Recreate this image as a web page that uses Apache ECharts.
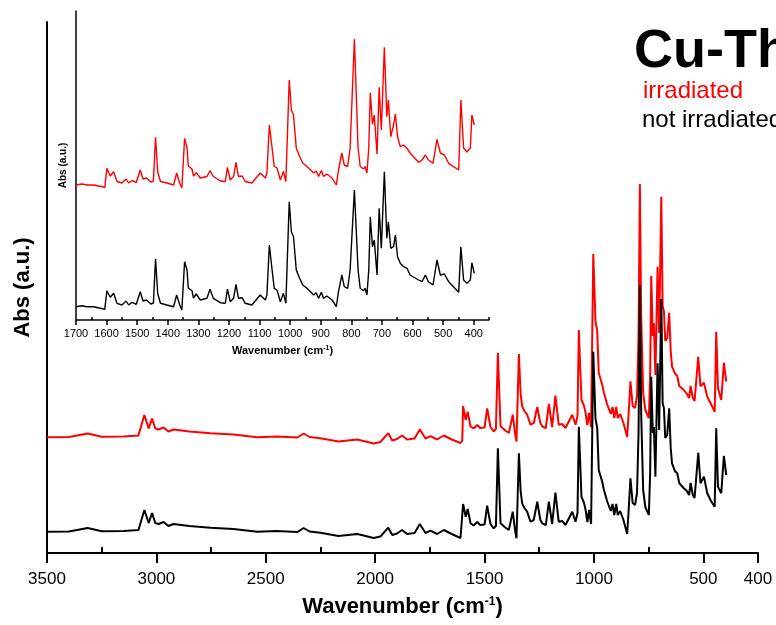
<!DOCTYPE html>
<html>
<head>
<meta charset="utf-8">
<script src="https://cdn.jsdelivr.net/npm/echarts@6/dist/echarts.min.js"></script>
<style>
html,body{margin:0;padding:0;background:#fff;}
#chart{width:776px;height:625px;}
</style>
</head>
<body>
<div id="chart"></div>
<script>
// ---- main spectrum (wavenumber, cm-1) ----
const mainWavenumber = [3500,3400,3314,3250,3150,3082,3055,3035,3020,3005,2990,2967,2945,2922,2850,2753,2648,2538,2450,2355,2327,2300,2250,2168,2081,2007,1976,1940,1922,1900,1877,1854,1820,1796,1770,1747,1717,1686,1650,1610,1602,1598,1586,1577,1564,1550,1533,1520,1511,1500,1488,1473,1458,1448,1439,1427,1405,1389,1371,1360,1354,1343,1335,1328,1318,1305,1290,1275,1259,1245,1236,1220,1206,1191,1176,1161,1145,1130,1099,1084,1075,1069,1057,1045,1038,1030,1022,1013,1003,993,985,978,962,955,940,923,915,907,898,891,880,865,848,842,833,823,812,803,796,790,784,775,765,756,749,743,738,731,726,719,709,702,692,686,680,674,665,656,649,643,630,619,610,589,575,565,558,548,540,523,513,505,497,482,465,448,441,433,418,406,395];
const mainNotIrradiated = [21.3,21.5,25,21.8,22,23,43,30,40,30,29,31,27,29,27,25.3,24,21.3,22,21,25,21.5,20.3,17,19,15,16.5,25.3,18,19.5,23,19,20,29,20,22.3,19,23,19,15,16.3,49,36.3,44,29.7,27.5,31,28,30,28.5,47.3,29,24.7,27,104.7,29.7,25.5,23,41.3,22,14.7,99.7,62,49.7,45,41.3,31.3,33,51.3,33,29.7,28,51.3,29,60.3,31.3,32,28,41.3,31.3,40,126.3,56.3,50,43,31,43,29,201.3,134.7,125,83,71.3,63.7,52,42,49,38,49,38,42,33,19,40,74.7,50,48,60,120,268,140,63,46,41.3,38,80,176.3,120,126,76.3,189.7,123,254,150,144.7,115,118,144.7,105,89.7,82,79.7,70,64.7,62,58,70,58,55,100.3,69.7,68,76.3,59.7,52,46.3,124.7,66.3,59.7,97,78];
const mainIrradiated = [115.7,116,119.5,116.3,116.5,117.5,138,124.5,134.5,124.5,123.5,125.5,121.5,123.5,121.5,119.8,118.5,115.8,116.5,115.5,119.5,116,114.8,111.5,113.5,109.5,111,119.8,112.5,114,117.5,113.5,114.5,123.5,114.5,116.8,113.5,117.5,113.5,110,112.3,147,133,141.3,126.5,124.5,128,125,127,125.5,144.7,126,121.7,124,200.3,126.7,122.5,120,138.3,119,111.3,199,159,146.7,142,138.3,128.3,130,146,130,126.7,125,149,126,157.3,128.3,129,125,138.3,128.3,137,223,153.3,147,140,128,140,126,299,231.7,222,180,168.3,160.7,149,139,146,135,146,135,139,130,116,137,171.7,147,145,157,217,369,237,160,143,138.3,135,177,277.3,217,230,178,286.3,220,356.3,247,241.7,212,215,240.3,202,186.3,179.7,177,167,163,159,155,167,155,152,196.3,166.7,165,170.3,156.3,149,141.3,221.3,164.7,153,190.3,171.3];

// ---- inset spectrum (1700-400 cm-1) ----
const insetWavenumber = [1700,1680,1665,1642,1606,1599,1588,1577,1566,1550,1536,1528,1517,1503,1490,1481,1470,1455,1447,1440,1433,1424,1403,1381,1371,1361,1354,1345,1337,1333,1321,1316,1307,1294,1272,1262,1251,1228,1212,1205,1196,1185,1177,1169,1157,1147,1125,1098,1081,1076,1068,1059,1052,1043,1032,1022,1014,1003,996,989,980,969,964,959,945,923,915,907,898,891,880,863,849,842,831,823,812,804,790,778,771,760,755,749,743,738,731,725,716,709,702,692,684,679,671,662,656,649,640,629,618,608,580,569,558,548,533,520,509,496,482,449,442,433,422,411,406,398];
const insetNotIrradiated = [13.3,14.3,13.3,13.3,10.7,29.3,22.7,26.7,16.7,15,19,15,17.7,15.7,28.3,19,20,16,17,61,26.7,16.7,15,13.3,25,15,10,58.3,50,32,29.3,22,26,20,21.7,30.7,21.7,17.3,16.7,31,18.3,21.7,35.7,21.7,22.3,16.7,15,25,20,25,75,50,31.7,30,18.3,26.7,16.7,118.3,88.3,83.3,50,41.7,43.3,35,31.7,25,27.3,21.7,27.7,21.7,24,20,13.3,28.3,45,33.3,31.7,50,130,50,31.7,29.3,31.7,25,50,103.3,73.3,80,45,111.7,71.7,148.3,81.7,98.3,71.7,73.3,85,63.3,56.7,53.3,51.7,45,40,38.3,45,38.3,35,60,45,46,38.3,27.7,73.3,40,36.7,40,57.3,46.7];
const insetIrradiated = [135,136,135,135,132.7,151.7,144,148.3,138.5,137,141,137,139.5,137.5,150,141,142,138,139,182.7,148.5,138.5,137,135,146.7,137,132,181.7,172,154,151,144,147.3,142,143.5,149.3,143.5,139,138.5,152.7,140,143.5,157.7,143.5,144,138.5,137,147,142,147,195,172,153.5,152,140,148.5,138.5,240,210,205,172,163.5,165,157,153.5,147,149,143.5,149.5,143.5,146,142,135,150,167,155,153.5,172,280.7,172,153.5,151,153.5,147,172,227.3,196,205,166,232.7,190,272.7,203.3,220,183.3,195,206,183.3,173.3,175,171.7,167,157.7,160,165,160,156.7,180.7,167,165,156.7,150,220,172,168,172,205,195];

// ---- axis ticks ----
const mainTickValues = [3500,3000,2500,2000,1500,1000,500,250];
const mainTickLabels = ['3500','3000','2500','2000','1500','1000','500','400'];
const mainMinorTicks = [3250,2750,2250,1750,1250,750];
const insetTickValues = [1700,1600,1500,1400,1300,1200,1100,1000,900,800,700,600,500,400];
const insetMinorTicks = [1650,1550,1450,1350,1250,1150,1050,950,850,750,650,550,450,350];

const FONT = 'Arial, "Liberation Sans", sans-serif';
const pair = (xs, ys) => xs.map((x, i) => [x, ys[i]]);

const chart = echarts.init(document.getElementById('chart'), null, {renderer: 'canvas'});
const hiddenY = {type:'value', axisTick:{show:false}, axisLabel:{show:false}, splitLine:{show:false}};

const option = {
  animation: false,
  backgroundColor: '#fff',
  grid: [
    {left: 47, top: 22, right: 18, bottom: 72},
    {left: 76, top: 11, right: 287, bottom: 305}
  ],
  xAxis: [
    {
      gridIndex: 0, type: 'value', min: 250, max: 3500, inverse: true,
      axisLine: {show: true, onZero: false, lineStyle: {color: '#000', width: 2}},
      axisTick: {show: true, customValues: mainTickValues, length: 10, lineStyle: {color: '#000', width: 2}},
      axisLabel: {show: true, customValues: mainTickValues, margin: 18, fontSize: 17, color: '#000', fontFamily: FONT,
        formatter: v => mainTickLabels[mainTickValues.indexOf(v)]},
      splitLine: {show: false},
      name: 'Wavenumber (cm{sup|-1})', nameLocation: 'middle', nameGap: 43,
      nameTextStyle: {fontSize: 22, fontWeight: 'bold', color: '#000', fontFamily: FONT,
        rich: {sup: {fontSize: 12, fontWeight: 'bold', color: '#000', fontFamily: FONT, verticalAlign: 'top', padding: [0, 0, 8, 0]}}}
    },
    {
      gridIndex: 0, type: 'value', min: 250, max: 3500, inverse: true,
      axisLine: {show: false},
      axisTick: {show: true, customValues: mainMinorTicks, length: 6, lineStyle: {color: '#000', width: 2}},
      axisLabel: {show: false}, splitLine: {show: false}
    },
    {
      gridIndex: 1, type: 'value', min: 350, max: 1700, inverse: true,
      axisLine: {show: true, onZero: false, lineStyle: {color: '#000', width: 1.5}},
      axisTick: {show: true, customValues: insetTickValues, length: 5, lineStyle: {color: '#000', width: 1.5}},
      axisLabel: {show: true, customValues: insetTickValues, margin: 8, fontSize: 11, color: '#000', fontFamily: FONT,
        formatter: v => String(v)},
      splitLine: {show: false},
      name: 'Wavenumber (cm{sup|-1})', nameLocation: 'middle', nameGap: 25,
      nameTextStyle: {fontSize: 11, fontWeight: 'bold', color: '#000', fontFamily: FONT,
        rich: {sup: {fontSize: 7, fontWeight: 'bold', color: '#000', fontFamily: FONT, verticalAlign: 'top', padding: [0, 0, 4, 0]}}}
    },
    {
      gridIndex: 1, type: 'value', min: 350, max: 1700, inverse: true,
      axisLine: {show: false},
      axisTick: {show: true, customValues: insetMinorTicks, length: 3, lineStyle: {color: '#000', width: 1.5}},
      axisLabel: {show: false}, splitLine: {show: false}
    }
  ],
  yAxis: [
    Object.assign({}, hiddenY, {
      gridIndex: 0, min: 0, max: 531,
      axisLine: {show: true, onZero: false, lineStyle: {color: '#000', width: 2}},
      name: 'Abs (a.u.)', nameLocation: 'middle', nameGap: 13, nameRotate: 90,
      nameTextStyle: {fontSize: 22, fontWeight: 'bold', color: '#000', fontFamily: FONT}
    }),
    Object.assign({}, hiddenY, {
      gridIndex: 1, min: 0, max: 309,
      axisLine: {show: true, onZero: false, lineStyle: {color: '#000', width: 1.5}},
      name: 'Abs (a.u.)', nameLocation: 'middle', nameGap: 8, nameRotate: 90,
      nameTextStyle: {fontSize: 10, fontWeight: 'bold', color: '#000', fontFamily: FONT}
    })
  ],
  series: [
    {name: 'irradiated', type: 'line', xAxisIndex: 0, yAxisIndex: 0, data: pair(mainWavenumber, mainIrradiated),
      showSymbol: false, lineStyle: {color: '#ff0000', width: 2}, z: 2},
    {name: 'not irradiated', type: 'line', xAxisIndex: 0, yAxisIndex: 0, data: pair(mainWavenumber, mainNotIrradiated),
      showSymbol: false, lineStyle: {color: '#000000', width: 2}, z: 3},
    {name: 'irradiated (inset)', type: 'line', xAxisIndex: 2, yAxisIndex: 1, data: pair(insetWavenumber, insetIrradiated),
      showSymbol: false, lineStyle: {color: '#ff0000', width: 1.4}, z: 4},
    {name: 'not irradiated (inset)', type: 'line', xAxisIndex: 2, yAxisIndex: 1, data: pair(insetWavenumber, insetNotIrradiated),
      showSymbol: false, lineStyle: {color: '#000000', width: 1.4}, z: 5}
  ],
  graphic: [
    {type: 'text', left: 634, top: 25, style: {text: 'Cu-Th', font: 'bold 54px ' + FONT, fill: '#000'}},
    {type: 'text', left: 643, top: 79, style: {text: 'irradiated', font: '24px ' + FONT, fill: '#ff0000'}},
    {type: 'text', left: 642, top: 108, style: {text: 'not irradiated', font: '24px ' + FONT, fill: '#000'}}
  ]
};
chart.setOption(option);
</script>
</body>
</html>
